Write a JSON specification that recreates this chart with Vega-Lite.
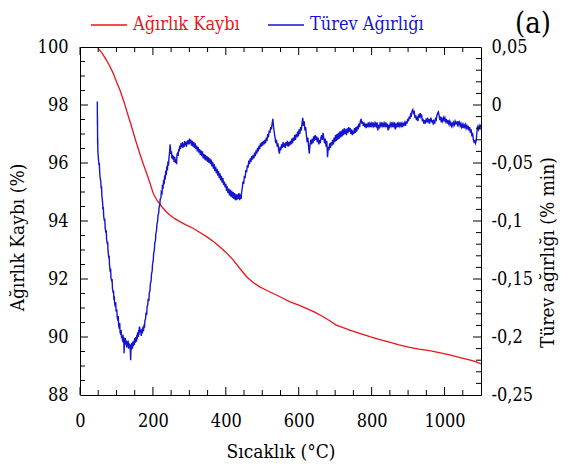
{
  "$schema": "https://vega.github.io/schema/vega-lite/v6.json",
  "width": 401,
  "height": 348,
  "autosize": {"type": "none"},
  "padding": {"left": 80, "top": 47, "right": 80, "bottom": 70},
  "background": "white",
  "title": {
    "text": "(a)",
    "anchor": "end",
    "frame": "group",
    "font": "DejaVu Serif Condensed",
    "fontSize": 29,
    "fontWeight": "normal",
    "color": "black",
    "baseline": "bottom",
    "dx": 70,
    "offset": -62
  },
  "config": {
    "view": {"stroke": "black", "strokeWidth": 1},
    "axis": {
      "grid": false,
      "domain": false,
      "ticks": false,
      "labelFont": "DejaVu Serif Condensed",
      "labelFontSize": 18,
      "labelColor": "black",
      "titleFont": "DejaVu Serif Condensed",
      "titleFontSize": 19,
      "titleFontWeight": "normal",
      "titleColor": "black",
      "labelOverlap": false,
      "labelFlush": false
    }
  },
  "datasets": {
    "xcentik": [
      {"t": 0, "tur": "ana"}, {"t": 50, "tur": "ara"}, {"t": 100, "tur": "ara"}, {"t": 150, "tur": "ara"},
      {"t": 200, "tur": "ana"}, {"t": 250, "tur": "ara"}, {"t": 300, "tur": "ara"}, {"t": 350, "tur": "ara"},
      {"t": 400, "tur": "ana"}, {"t": 450, "tur": "ara"}, {"t": 500, "tur": "ara"}, {"t": 550, "tur": "ara"},
      {"t": 600, "tur": "ana"}, {"t": 650, "tur": "ara"}, {"t": 700, "tur": "ara"}, {"t": 750, "tur": "ara"},
      {"t": 800, "tur": "ana"}, {"t": 850, "tur": "ara"}, {"t": 900, "tur": "ara"}, {"t": 950, "tur": "ara"},
      {"t": 1000, "tur": "ana"}, {"t": 1050, "tur": "ara"}
    ],
    "solcentik": [
      {"w": 88.5, "tur": "ara"}, {"w": 89, "tur": "ara"}, {"w": 89.5, "tur": "ara"}, {"w": 90, "tur": "ana"},
      {"w": 90.5, "tur": "ara"}, {"w": 91, "tur": "ara"}, {"w": 91.5, "tur": "ara"}, {"w": 92, "tur": "ana"},
      {"w": 92.5, "tur": "ara"}, {"w": 93, "tur": "ara"}, {"w": 93.5, "tur": "ara"}, {"w": 94, "tur": "ana"},
      {"w": 94.5, "tur": "ara"}, {"w": 95, "tur": "ara"}, {"w": 95.5, "tur": "ara"}, {"w": 96, "tur": "ana"},
      {"w": 96.5, "tur": "ara"}, {"w": 97, "tur": "ara"}, {"w": 97.5, "tur": "ara"}, {"w": 98, "tur": "ana"},
      {"w": 98.5, "tur": "ara"}, {"w": 99, "tur": "ara"}, {"w": 99.5, "tur": "ara"}
    ],
    "sagcentik": [
      {"d": -0.24, "tur": "ara"}, {"d": -0.23, "tur": "ara"}, {"d": -0.22, "tur": "ara"}, {"d": -0.21, "tur": "ara"},
      {"d": -0.2, "tur": "ana"}, {"d": -0.19, "tur": "ara"}, {"d": -0.18, "tur": "ara"}, {"d": -0.17, "tur": "ara"},
      {"d": -0.16, "tur": "ara"}, {"d": -0.15, "tur": "ana"}, {"d": -0.14, "tur": "ara"}, {"d": -0.13, "tur": "ara"},
      {"d": -0.12, "tur": "ara"}, {"d": -0.11, "tur": "ara"}, {"d": -0.1, "tur": "ana"}, {"d": -0.09, "tur": "ara"},
      {"d": -0.08, "tur": "ara"}, {"d": -0.07, "tur": "ara"}, {"d": -0.06, "tur": "ara"}, {"d": -0.05, "tur": "ana"},
      {"d": -0.04, "tur": "ara"}, {"d": -0.03, "tur": "ara"}, {"d": -0.02, "tur": "ara"}, {"d": -0.01, "tur": "ara"},
      {"d": 0, "tur": "ana"}, {"d": 0.01, "tur": "ara"}, {"d": 0.02, "tur": "ara"}, {"d": 0.03, "tur": "ara"},
      {"d": 0.04, "tur": "ara"}
    ],
    "kayip": [
      {"t": 50, "w": 99.95}, {"t": 60, "w": 99.8}, {"t": 70, "w": 99.6}, {"t": 80, "w": 99.38},
      {"t": 91, "w": 99.1}, {"t": 100, "w": 98.8}, {"t": 110, "w": 98.5}, {"t": 119, "w": 98.17},
      {"t": 130, "w": 97.72}, {"t": 141.5, "w": 97.25}, {"t": 152, "w": 96.8}, {"t": 164, "w": 96.33},
      {"t": 174, "w": 95.95}, {"t": 183, "w": 95.64}, {"t": 192, "w": 95.3}, {"t": 201, "w": 94.95},
      {"t": 212, "w": 94.7}, {"t": 224, "w": 94.5}, {"t": 236, "w": 94.33}, {"t": 247, "w": 94.2},
      {"t": 260, "w": 94.08}, {"t": 274, "w": 93.98}, {"t": 292, "w": 93.86}, {"t": 310, "w": 93.75},
      {"t": 328, "w": 93.61}, {"t": 347, "w": 93.46}, {"t": 366, "w": 93.29}, {"t": 384, "w": 93.1},
      {"t": 402, "w": 92.9}, {"t": 420, "w": 92.66}, {"t": 438, "w": 92.37}, {"t": 457, "w": 92.08},
      {"t": 475, "w": 91.88}, {"t": 493, "w": 91.73}, {"t": 510, "w": 91.62}, {"t": 530, "w": 91.5},
      {"t": 550, "w": 91.38}, {"t": 575, "w": 91.22}, {"t": 600, "w": 91.1}, {"t": 621, "w": 90.99},
      {"t": 645, "w": 90.85}, {"t": 667, "w": 90.7}, {"t": 685, "w": 90.56}, {"t": 703, "w": 90.41},
      {"t": 720, "w": 90.33}, {"t": 740, "w": 90.24}, {"t": 765, "w": 90.13}, {"t": 795, "w": 90.01},
      {"t": 820, "w": 89.92}, {"t": 849, "w": 89.82}, {"t": 875, "w": 89.73}, {"t": 904, "w": 89.64},
      {"t": 930, "w": 89.58}, {"t": 959, "w": 89.53}, {"t": 985, "w": 89.46}, {"t": 1014, "w": 89.38},
      {"t": 1040, "w": 89.3}, {"t": 1068, "w": 89.21}, {"t": 1085, "w": 89.15}, {"t": 1100, "w": 89.07}
    ],
    "turev": [
      {"t": 47.5, "d": 0.003}, {"t": 47.8, "d": -0.018}, {"t": 48.0, "d": -0.01}, {"t": 48.3, "d": -0.034},
      {"t": 48.6, "d": -0.028}, {"t": 49, "d": -0.04}, {"t": 50, "d": -0.044}, {"t": 51, "d": -0.048},
      {"t": 52, "d": -0.052}, {"t": 53, "d": -0.05}, {"t": 54, "d": -0.058}, {"t": 55, "d": -0.062},
      {"t": 57, "d": -0.066}, {"t": 58, "d": -0.072}, {"t": 59, "d": -0.07}, {"t": 60, "d": -0.078},
      {"t": 62, "d": -0.084}, {"t": 63, "d": -0.09}, {"t": 64, "d": -0.088}, {"t": 65, "d": -0.096},
      {"t": 67, "d": -0.1}, {"t": 68, "d": -0.098}, {"t": 69, "d": -0.106}, {"t": 71, "d": -0.11},
      {"t": 72, "d": -0.108}, {"t": 73, "d": -0.116}, {"t": 75, "d": -0.12}, {"t": 76, "d": -0.118},
      {"t": 77, "d": -0.126}, {"t": 79, "d": -0.132}, {"t": 80, "d": -0.13}, {"t": 81, "d": -0.138},
      {"t": 83, "d": -0.144}, {"t": 84, "d": -0.141}, {"t": 85, "d": -0.149}, {"t": 87, "d": -0.152},
      {"t": 88, "d": -0.15}, {"t": 89, "d": -0.158}, {"t": 91, "d": -0.162}, {"t": 92, "d": -0.16},
      {"t": 93, "d": -0.168}, {"t": 94, "d": -0.165}, {"t": 95, "d": -0.171}, {"t": 97, "d": -0.174},
      {"t": 98, "d": -0.17}, {"t": 99, "d": -0.178}, {"t": 101, "d": -0.176}, {"t": 102, "d": -0.183},
      {"t": 104, "d": -0.186}, {"t": 105, "d": -0.182}, {"t": 106, "d": -0.19}, {"t": 108, "d": -0.193},
      {"t": 109, "d": -0.188}, {"t": 110, "d": -0.196}, {"t": 112, "d": -0.198}, {"t": 113, "d": -0.194},
      {"t": 114, "d": -0.201}, {"t": 116, "d": -0.199}, {"t": 117, "d": -0.204}, {"t": 118, "d": -0.198},
      {"t": 119, "d": -0.205}, {"t": 120, "d": -0.2}, {"t": 121, "d": -0.214}, {"t": 122, "d": -0.202},
      {"t": 123, "d": -0.207}, {"t": 124, "d": -0.201}, {"t": 126, "d": -0.206}, {"t": 127, "d": -0.203},
      {"t": 128, "d": -0.209}, {"t": 129, "d": -0.204}, {"t": 131, "d": -0.208}, {"t": 132, "d": -0.203},
      {"t": 133, "d": -0.21}, {"t": 134, "d": -0.205}, {"t": 136, "d": -0.209}, {"t": 137, "d": -0.206},
      {"t": 138, "d": -0.212}, {"t": 139, "d": -0.22}, {"t": 140, "d": -0.207}, {"t": 141, "d": -0.211},
      {"t": 142, "d": -0.205}, {"t": 144, "d": -0.21}, {"t": 145, "d": -0.204}, {"t": 146, "d": -0.208},
      {"t": 148, "d": -0.203}, {"t": 149, "d": -0.207}, {"t": 150, "d": -0.201}, {"t": 152, "d": -0.205},
      {"t": 153, "d": -0.2}, {"t": 155, "d": -0.204}, {"t": 156, "d": -0.198}, {"t": 157, "d": -0.202},
      {"t": 158, "d": -0.196}, {"t": 160, "d": -0.2}, {"t": 161, "d": -0.194}, {"t": 162, "d": -0.198},
      {"t": 163, "d": -0.191}, {"t": 165, "d": -0.194}, {"t": 167, "d": -0.196}, {"t": 168, "d": -0.199},
      {"t": 170, "d": -0.193}, {"t": 171, "d": -0.197}, {"t": 173, "d": -0.191}, {"t": 174, "d": -0.195},
      {"t": 176, "d": -0.189}, {"t": 177, "d": -0.192}, {"t": 178, "d": -0.186}, {"t": 180, "d": -0.184},
      {"t": 181, "d": -0.179}, {"t": 183, "d": -0.181}, {"t": 184, "d": -0.174}, {"t": 186, "d": -0.172},
      {"t": 187, "d": -0.167}, {"t": 189, "d": -0.169}, {"t": 190, "d": -0.162}, {"t": 192, "d": -0.16},
      {"t": 193, "d": -0.154}, {"t": 195, "d": -0.152}, {"t": 196, "d": -0.146}, {"t": 198, "d": -0.143},
      {"t": 199, "d": -0.137}, {"t": 201, "d": -0.134}, {"t": 202, "d": -0.128}, {"t": 204, "d": -0.125},
      {"t": 205, "d": -0.119}, {"t": 207, "d": -0.117}, {"t": 208, "d": -0.111}, {"t": 210, "d": -0.108},
      {"t": 211, "d": -0.103}, {"t": 213, "d": -0.1}, {"t": 214, "d": -0.095}, {"t": 216, "d": -0.093},
      {"t": 217, "d": -0.088}, {"t": 219, "d": -0.086}, {"t": 220, "d": -0.081}, {"t": 222, "d": -0.08},
      {"t": 223, "d": -0.075}, {"t": 225, "d": -0.076}, {"t": 226, "d": -0.07}, {"t": 228, "d": -0.071},
      {"t": 229, "d": -0.066}, {"t": 231, "d": -0.067}, {"t": 232, "d": -0.062}, {"t": 234, "d": -0.063},
      {"t": 235, "d": -0.058}, {"t": 237, "d": -0.059}, {"t": 238, "d": -0.054}, {"t": 240, "d": -0.055},
      {"t": 241, "d": -0.05}, {"t": 243, "d": -0.051}, {"t": 244, "d": -0.046}, {"t": 246, "d": -0.04},
      {"t": 247, "d": -0.034}, {"t": 248, "d": -0.036}, {"t": 249, "d": -0.042}, {"t": 251, "d": -0.04},
      {"t": 252, "d": -0.046}, {"t": 254, "d": -0.043}, {"t": 255, "d": -0.047}, {"t": 257, "d": -0.044},
      {"t": 258, "d": -0.049}, {"t": 260, "d": -0.045}, {"t": 262, "d": -0.05}, {"t": 263, "d": -0.047},
      {"t": 265, "d": -0.051}, {"t": 266, "d": -0.043}, {"t": 268, "d": -0.041}, {"t": 269, "d": -0.044},
      {"t": 271, "d": -0.038}, {"t": 272, "d": -0.04}, {"t": 274, "d": -0.035}, {"t": 276, "d": -0.038},
      {"t": 277, "d": -0.033}, {"t": 279, "d": -0.036}, {"t": 281, "d": -0.032}, {"t": 282, "d": -0.037},
      {"t": 284, "d": -0.033}, {"t": 286, "d": -0.036}, {"t": 287, "d": -0.031}, {"t": 289, "d": -0.035},
      {"t": 291, "d": -0.032}, {"t": 292, "d": -0.036}, {"t": 294, "d": -0.031}, {"t": 296, "d": -0.034},
      {"t": 297, "d": -0.03}, {"t": 299, "d": -0.034}, {"t": 301, "d": -0.029}, {"t": 303, "d": -0.033},
      {"t": 304, "d": -0.03}, {"t": 306, "d": -0.035}, {"t": 308, "d": -0.031}, {"t": 310, "d": -0.036},
      {"t": 312, "d": -0.032}, {"t": 314, "d": -0.037}, {"t": 316, "d": -0.033}, {"t": 318, "d": -0.038},
      {"t": 320, "d": -0.035}, {"t": 322, "d": -0.04}, {"t": 324, "d": -0.036}, {"t": 326, "d": -0.041},
      {"t": 328, "d": -0.038}, {"t": 330, "d": -0.043}, {"t": 332, "d": -0.039}, {"t": 334, "d": -0.044},
      {"t": 336, "d": -0.04}, {"t": 338, "d": -0.046}, {"t": 340, "d": -0.042}, {"t": 342, "d": -0.047},
      {"t": 344, "d": -0.043}, {"t": 346, "d": -0.048}, {"t": 348, "d": -0.044}, {"t": 350, "d": -0.049},
      {"t": 352, "d": -0.045}, {"t": 354, "d": -0.05}, {"t": 356, "d": -0.046}, {"t": 358, "d": -0.051},
      {"t": 360, "d": -0.047}, {"t": 362, "d": -0.053}, {"t": 364, "d": -0.049}, {"t": 366, "d": -0.055},
      {"t": 368, "d": -0.051}, {"t": 370, "d": -0.057}, {"t": 372, "d": -0.053}, {"t": 374, "d": -0.059},
      {"t": 376, "d": -0.055}, {"t": 378, "d": -0.061}, {"t": 380, "d": -0.057}, {"t": 382, "d": -0.063},
      {"t": 384, "d": -0.059}, {"t": 386, "d": -0.065}, {"t": 388, "d": -0.061}, {"t": 390, "d": -0.067},
      {"t": 392, "d": -0.063}, {"t": 394, "d": -0.069}, {"t": 396, "d": -0.066}, {"t": 398, "d": -0.071},
      {"t": 400, "d": -0.068}, {"t": 402, "d": -0.074}, {"t": 404, "d": -0.07}, {"t": 406, "d": -0.076},
      {"t": 408, "d": -0.072}, {"t": 410, "d": -0.078}, {"t": 412, "d": -0.073}, {"t": 414, "d": -0.079},
      {"t": 416, "d": -0.074}, {"t": 418, "d": -0.08}, {"t": 420, "d": -0.075}, {"t": 422, "d": -0.081},
      {"t": 424, "d": -0.076}, {"t": 426, "d": -0.082}, {"t": 428, "d": -0.077}, {"t": 430, "d": -0.082},
      {"t": 432, "d": -0.077}, {"t": 434, "d": -0.081}, {"t": 436, "d": -0.076}, {"t": 438, "d": -0.082},
      {"t": 440, "d": -0.077}, {"t": 442, "d": -0.081}, {"t": 443, "d": -0.076}, {"t": 445, "d": -0.072},
      {"t": 447, "d": -0.066}, {"t": 449, "d": -0.068}, {"t": 451, "d": -0.061}, {"t": 453, "d": -0.063},
      {"t": 455, "d": -0.056}, {"t": 457, "d": -0.058}, {"t": 459, "d": -0.052}, {"t": 461, "d": -0.054},
      {"t": 463, "d": -0.048}, {"t": 465, "d": -0.051}, {"t": 467, "d": -0.046}, {"t": 469, "d": -0.049},
      {"t": 471, "d": -0.044}, {"t": 473, "d": -0.047}, {"t": 475, "d": -0.043}, {"t": 477, "d": -0.046},
      {"t": 479, "d": -0.041}, {"t": 481, "d": -0.044}, {"t": 483, "d": -0.039}, {"t": 485, "d": -0.042},
      {"t": 487, "d": -0.037}, {"t": 489, "d": -0.04}, {"t": 491, "d": -0.035}, {"t": 493, "d": -0.038},
      {"t": 495, "d": -0.033}, {"t": 497, "d": -0.036}, {"t": 499, "d": -0.032}, {"t": 501, "d": -0.035},
      {"t": 503, "d": -0.031}, {"t": 505, "d": -0.034}, {"t": 507, "d": -0.03}, {"t": 509, "d": -0.033},
      {"t": 511, "d": -0.028}, {"t": 513, "d": -0.031}, {"t": 515, "d": -0.025}, {"t": 517, "d": -0.028},
      {"t": 519, "d": -0.022}, {"t": 521, "d": -0.024}, {"t": 523, "d": -0.019}, {"t": 525, "d": -0.021},
      {"t": 527, "d": -0.016}, {"t": 529, "d": -0.012}, {"t": 531, "d": -0.019}, {"t": 533, "d": -0.024},
      {"t": 535, "d": -0.028}, {"t": 537, "d": -0.033}, {"t": 539, "d": -0.03}, {"t": 541, "d": -0.036},
      {"t": 543, "d": -0.033}, {"t": 545, "d": -0.039}, {"t": 547, "d": -0.042}, {"t": 549, "d": -0.036},
      {"t": 551, "d": -0.039}, {"t": 553, "d": -0.034}, {"t": 555, "d": -0.037}, {"t": 557, "d": -0.032},
      {"t": 559, "d": -0.036}, {"t": 561, "d": -0.033}, {"t": 563, "d": -0.037}, {"t": 565, "d": -0.032},
      {"t": 567, "d": -0.035}, {"t": 569, "d": -0.031}, {"t": 571, "d": -0.036}, {"t": 573, "d": -0.032},
      {"t": 575, "d": -0.035}, {"t": 577, "d": -0.031}, {"t": 579, "d": -0.034}, {"t": 581, "d": -0.029},
      {"t": 583, "d": -0.033}, {"t": 585, "d": -0.028}, {"t": 587, "d": -0.031}, {"t": 589, "d": -0.026},
      {"t": 591, "d": -0.03}, {"t": 593, "d": -0.025}, {"t": 595, "d": -0.028}, {"t": 597, "d": -0.023},
      {"t": 599, "d": -0.027}, {"t": 601, "d": -0.021}, {"t": 603, "d": -0.025}, {"t": 605, "d": -0.019},
      {"t": 607, "d": -0.022}, {"t": 609, "d": -0.016}, {"t": 611, "d": -0.011}, {"t": 613, "d": -0.018},
      {"t": 615, "d": -0.014}, {"t": 617, "d": -0.022}, {"t": 619, "d": -0.019}, {"t": 621, "d": -0.026},
      {"t": 623, "d": -0.032}, {"t": 625, "d": -0.028}, {"t": 627, "d": -0.036}, {"t": 629, "d": -0.042},
      {"t": 631, "d": -0.034}, {"t": 633, "d": -0.03}, {"t": 635, "d": -0.034}, {"t": 637, "d": -0.029},
      {"t": 639, "d": -0.033}, {"t": 641, "d": -0.027}, {"t": 643, "d": -0.031}, {"t": 645, "d": -0.026},
      {"t": 647, "d": -0.03}, {"t": 649, "d": -0.027}, {"t": 651, "d": -0.032}, {"t": 653, "d": -0.028},
      {"t": 655, "d": -0.034}, {"t": 657, "d": -0.03}, {"t": 659, "d": -0.033}, {"t": 661, "d": -0.028},
      {"t": 663, "d": -0.026}, {"t": 665, "d": -0.03}, {"t": 667, "d": -0.024}, {"t": 669, "d": -0.029},
      {"t": 671, "d": -0.033}, {"t": 673, "d": -0.029}, {"t": 675, "d": -0.036}, {"t": 677, "d": -0.031},
      {"t": 679, "d": -0.045}, {"t": 681, "d": -0.036}, {"t": 683, "d": -0.039}, {"t": 685, "d": -0.033},
      {"t": 687, "d": -0.037}, {"t": 689, "d": -0.032}, {"t": 691, "d": -0.035}, {"t": 693, "d": -0.03},
      {"t": 695, "d": -0.034}, {"t": 697, "d": -0.028}, {"t": 699, "d": -0.032}, {"t": 701, "d": -0.026},
      {"t": 703, "d": -0.031}, {"t": 705, "d": -0.025}, {"t": 707, "d": -0.03}, {"t": 709, "d": -0.024},
      {"t": 711, "d": -0.029}, {"t": 713, "d": -0.023}, {"t": 715, "d": -0.028}, {"t": 717, "d": -0.022},
      {"t": 719, "d": -0.027}, {"t": 721, "d": -0.021}, {"t": 723, "d": -0.026}, {"t": 725, "d": -0.02},
      {"t": 727, "d": -0.025}, {"t": 729, "d": -0.021}, {"t": 731, "d": -0.026}, {"t": 733, "d": -0.02},
      {"t": 735, "d": -0.024}, {"t": 737, "d": -0.019}, {"t": 739, "d": -0.023}, {"t": 741, "d": -0.02},
      {"t": 743, "d": -0.025}, {"t": 745, "d": -0.021}, {"t": 747, "d": -0.026}, {"t": 749, "d": -0.022},
      {"t": 751, "d": -0.025}, {"t": 753, "d": -0.02}, {"t": 755, "d": -0.024}, {"t": 757, "d": -0.019},
      {"t": 759, "d": -0.023}, {"t": 761, "d": -0.018}, {"t": 763, "d": -0.021}, {"t": 765, "d": -0.016},
      {"t": 767, "d": -0.019}, {"t": 769, "d": -0.014}, {"t": 771, "d": -0.012}, {"t": 773, "d": -0.016},
      {"t": 775, "d": -0.014}, {"t": 777, "d": -0.018}, {"t": 779, "d": -0.015}, {"t": 781, "d": -0.019},
      {"t": 783, "d": -0.016}, {"t": 785, "d": -0.02}, {"t": 787, "d": -0.016}, {"t": 789, "d": -0.019},
      {"t": 791, "d": -0.015}, {"t": 793, "d": -0.018}, {"t": 795, "d": -0.016}, {"t": 797, "d": -0.019},
      {"t": 799, "d": -0.016}, {"t": 801, "d": -0.018}, {"t": 803, "d": -0.015}, {"t": 805, "d": -0.018},
      {"t": 807, "d": -0.016}, {"t": 809, "d": -0.019}, {"t": 811, "d": -0.016}, {"t": 813, "d": -0.018},
      {"t": 815, "d": -0.015}, {"t": 817, "d": -0.022}, {"t": 819, "d": -0.017}, {"t": 821, "d": -0.019},
      {"t": 823, "d": -0.016}, {"t": 825, "d": -0.018}, {"t": 827, "d": -0.015}, {"t": 829, "d": -0.018},
      {"t": 831, "d": -0.016}, {"t": 833, "d": -0.019}, {"t": 835, "d": -0.016}, {"t": 837, "d": -0.018},
      {"t": 839, "d": -0.015}, {"t": 841, "d": -0.019}, {"t": 843, "d": -0.016}, {"t": 845, "d": -0.022},
      {"t": 847, "d": -0.017}, {"t": 849, "d": -0.019}, {"t": 851, "d": -0.016}, {"t": 853, "d": -0.018},
      {"t": 855, "d": -0.015}, {"t": 857, "d": -0.019}, {"t": 859, "d": -0.016}, {"t": 861, "d": -0.018},
      {"t": 863, "d": -0.015}, {"t": 865, "d": -0.021}, {"t": 867, "d": -0.016}, {"t": 869, "d": -0.018},
      {"t": 871, "d": -0.015}, {"t": 873, "d": -0.019}, {"t": 875, "d": -0.016}, {"t": 877, "d": -0.018},
      {"t": 879, "d": -0.015}, {"t": 881, "d": -0.018}, {"t": 883, "d": -0.016}, {"t": 885, "d": -0.019},
      {"t": 887, "d": -0.016}, {"t": 889, "d": -0.017}, {"t": 891, "d": -0.015}, {"t": 893, "d": -0.018},
      {"t": 895, "d": -0.014}, {"t": 897, "d": -0.016}, {"t": 899, "d": -0.012}, {"t": 901, "d": -0.014},
      {"t": 903, "d": -0.01}, {"t": 905, "d": -0.012}, {"t": 907, "d": -0.008}, {"t": 909, "d": -0.009},
      {"t": 911, "d": -0.005}, {"t": 913, "d": -0.004}, {"t": 915, "d": -0.007}, {"t": 917, "d": -0.006},
      {"t": 919, "d": -0.011}, {"t": 921, "d": -0.009}, {"t": 923, "d": -0.013}, {"t": 925, "d": -0.01},
      {"t": 927, "d": -0.014}, {"t": 929, "d": -0.008}, {"t": 931, "d": -0.011}, {"t": 933, "d": -0.007},
      {"t": 935, "d": -0.01}, {"t": 937, "d": -0.008}, {"t": 939, "d": -0.014}, {"t": 941, "d": -0.012},
      {"t": 943, "d": -0.016}, {"t": 945, "d": -0.013}, {"t": 947, "d": -0.016}, {"t": 949, "d": -0.013},
      {"t": 951, "d": -0.015}, {"t": 953, "d": -0.011}, {"t": 955, "d": -0.014}, {"t": 957, "d": -0.012},
      {"t": 959, "d": -0.016}, {"t": 961, "d": -0.013}, {"t": 963, "d": -0.011}, {"t": 965, "d": -0.015},
      {"t": 967, "d": -0.013}, {"t": 969, "d": -0.017}, {"t": 971, "d": -0.014}, {"t": 973, "d": -0.016},
      {"t": 975, "d": -0.012}, {"t": 977, "d": -0.013}, {"t": 979, "d": -0.009}, {"t": 981, "d": -0.007},
      {"t": 983, "d": -0.006}, {"t": 985, "d": -0.009}, {"t": 987, "d": -0.013}, {"t": 989, "d": -0.01},
      {"t": 991, "d": -0.015}, {"t": 993, "d": -0.012}, {"t": 995, "d": -0.014}, {"t": 997, "d": -0.011},
      {"t": 999, "d": -0.013}, {"t": 1001, "d": -0.011}, {"t": 1003, "d": -0.014}, {"t": 1005, "d": -0.012},
      {"t": 1007, "d": -0.016}, {"t": 1009, "d": -0.013}, {"t": 1011, "d": -0.016}, {"t": 1013, "d": -0.014},
      {"t": 1015, "d": -0.017}, {"t": 1017, "d": -0.015}, {"t": 1019, "d": -0.018}, {"t": 1021, "d": -0.016},
      {"t": 1023, "d": -0.018}, {"t": 1025, "d": -0.015}, {"t": 1027, "d": -0.017}, {"t": 1029, "d": -0.014},
      {"t": 1031, "d": -0.016}, {"t": 1033, "d": -0.015}, {"t": 1035, "d": -0.017}, {"t": 1037, "d": -0.014},
      {"t": 1039, "d": -0.017}, {"t": 1041, "d": -0.015}, {"t": 1043, "d": -0.018}, {"t": 1045, "d": -0.016},
      {"t": 1047, "d": -0.019}, {"t": 1049, "d": -0.017}, {"t": 1051, "d": -0.02}, {"t": 1053, "d": -0.017},
      {"t": 1055, "d": -0.019}, {"t": 1057, "d": -0.017}, {"t": 1059, "d": -0.02}, {"t": 1061, "d": -0.018},
      {"t": 1063, "d": -0.021}, {"t": 1065, "d": -0.018}, {"t": 1067, "d": -0.022}, {"t": 1069, "d": -0.019},
      {"t": 1071, "d": -0.024}, {"t": 1073, "d": -0.021}, {"t": 1075, "d": -0.027}, {"t": 1077, "d": -0.024},
      {"t": 1079, "d": -0.03}, {"t": 1081, "d": -0.032}, {"t": 1083, "d": -0.031}, {"t": 1085, "d": -0.033},
      {"t": 1087, "d": -0.03}, {"t": 1089, "d": -0.022}, {"t": 1091, "d": -0.019}, {"t": 1093, "d": -0.021},
      {"t": 1095, "d": -0.018}, {"t": 1097, "d": -0.02}, {"t": 1099, "d": -0.017}, {"t": 1100, "d": -0.019}
    ]
  },
  "layer": [
    {
      "data": {"name": "kayip"},
      "mark": {"type": "line", "strokeWidth": 1.3, "clip": true},
      "encoding": {
        "x": {
          "field": "t",
          "type": "quantitative",
          "scale": {"domain": [0, 1100], "nice": false, "zero": false},
          "axis": {
            "orient": "bottom",
            "title": "Sıcaklık (°C)",
            "titlePadding": 12,
            "values": [0, 200, 400, 600, 800, 1000],
            "format": "d",
            "labelPadding": 17
          }
        },
        "y": {
          "field": "w",
          "type": "quantitative",
          "scale": {"domain": [88, 100], "nice": false, "zero": false},
          "axis": {
            "orient": "left",
            "title": "Ağırlık Kaybı  (%)",
            "titleY": 190,
            "titlePadding": 10,
            "values": [88, 90, 92, 94, 96, 98, 100],
            "format": "d",
            "labelPadding": 12
          }
        },
        "color": {
          "datum": "Ağırlık Kaybı",
          "type": "nominal",
          "scale": {"domain": ["Ağırlık Kaybı", "Türev Ağırlığı"], "range": ["#e8141c", "#1515d0"]},
          "legend": {
            "orient": "none",
            "legendX": 10,
            "legendY": -41,
            "direction": "horizontal",
            "title": null,
            "symbolType": "stroke",
            "symbolSize": 1300,
            "symbolStrokeWidth": 1.5,
            "labelFont": "DejaVu Serif Condensed",
            "labelFontSize": 18,
            "labelOffset": 5,
            "columnPadding": 24,
            "encode": {"labels": {"update": {"fill": {"signal": "datum.label === 'Ağırlık Kaybı' ? '#e8141c' : '#1515d0'"}}}}
          }
        }
      }
    },
    {
      "data": {"name": "turev"},
      "mark": {"type": "line", "strokeWidth": 1.4, "clip": true},
      "encoding": {
        "x": {
          "field": "t",
          "type": "quantitative",
          "scale": {"domain": [0, 1100], "nice": false, "zero": false},
          "axis": null
        },
        "y": {
          "field": "d",
          "type": "quantitative",
          "scale": {"domain": [-0.25, 0.05], "nice": false, "zero": false},
          "axis": {
            "orient": "right",
            "title": "Türev ağırlığı  (% min)",
            "titleAngle": -90,
            "titleBaseline": "top",
            "titleY": 205,
            "titlePadding": 6,
            "values": [-0.25, -0.2, -0.15, -0.1, -0.05, 0, 0.05],
            "labelExpr": "(datum.value < -0.0001 ? '-' : '') + replace(format(abs(datum.value), '.2~f'), '.', ',')",
            "labelPadding": 10
          }
        },
        "color": {"datum": "Türev Ağırlığı", "type": "nominal"}
      }
    },
    {
      "data": {"name": "xcentik"},
      "transform": [{"filter": "datum.tur === 'ana'"}],
      "mark": {"type": "rule", "color": "black", "strokeWidth": 1},
      "encoding": {
        "x": {"field": "t", "type": "quantitative", "scale": {"domain": [0, 1100], "nice": false, "zero": false}, "axis": null},
        "y": {"datum": 88, "type": "quantitative", "scale": {"domain": [88, 100], "nice": false, "zero": false}, "axis": null},
        "y2": {"datum": 88.276}
      }
    },
    {
      "data": {"name": "xcentik"},
      "transform": [{"filter": "datum.tur === 'ara'"}],
      "mark": {"type": "rule", "color": "black", "strokeWidth": 1},
      "encoding": {
        "x": {"field": "t", "type": "quantitative", "scale": {"domain": [0, 1100], "nice": false, "zero": false}, "axis": null},
        "y": {"datum": 88, "type": "quantitative", "scale": {"domain": [88, 100], "nice": false, "zero": false}, "axis": null},
        "y2": {"datum": 88.172}
      }
    },
    {
      "data": {"name": "xcentik"},
      "transform": [{"filter": "datum.tur === 'ana'"}],
      "mark": {"type": "rule", "color": "black", "strokeWidth": 1},
      "encoding": {
        "x": {"field": "t", "type": "quantitative", "scale": {"domain": [0, 1100], "nice": false, "zero": false}, "axis": null},
        "y": {"datum": 100, "type": "quantitative", "scale": {"domain": [88, 100], "nice": false, "zero": false}, "axis": null},
        "y2": {"datum": 99.724}
      }
    },
    {
      "data": {"name": "xcentik"},
      "transform": [{"filter": "datum.tur === 'ara'"}],
      "mark": {"type": "rule", "color": "black", "strokeWidth": 1},
      "encoding": {
        "x": {"field": "t", "type": "quantitative", "scale": {"domain": [0, 1100], "nice": false, "zero": false}, "axis": null},
        "y": {"datum": 100, "type": "quantitative", "scale": {"domain": [88, 100], "nice": false, "zero": false}, "axis": null},
        "y2": {"datum": 99.828}
      }
    },
    {
      "data": {"name": "solcentik"},
      "transform": [{"filter": "datum.tur === 'ana'"}],
      "mark": {"type": "rule", "color": "black", "strokeWidth": 1},
      "encoding": {
        "x": {"datum": 0, "type": "quantitative", "scale": {"domain": [0, 1100], "nice": false, "zero": false}, "axis": null},
        "x2": {"datum": 21.9},
        "y": {"field": "w", "type": "quantitative", "scale": {"domain": [88, 100], "nice": false, "zero": false}, "axis": null}
      }
    },
    {
      "data": {"name": "solcentik"},
      "transform": [{"filter": "datum.tur === 'ara'"}],
      "mark": {"type": "rule", "color": "black", "strokeWidth": 1},
      "encoding": {
        "x": {"datum": 0, "type": "quantitative", "scale": {"domain": [0, 1100], "nice": false, "zero": false}, "axis": null},
        "x2": {"datum": 13.7},
        "y": {"field": "w", "type": "quantitative", "scale": {"domain": [88, 100], "nice": false, "zero": false}, "axis": null}
      }
    },
    {
      "data": {"name": "sagcentik"},
      "transform": [{"filter": "datum.tur === 'ana'"}],
      "mark": {"type": "rule", "color": "black", "strokeWidth": 1},
      "encoding": {
        "x": {"datum": 1100, "type": "quantitative", "scale": {"domain": [0, 1100], "nice": false, "zero": false}, "axis": null},
        "x2": {"datum": 1078.1},
        "y": {"field": "d", "type": "quantitative", "scale": {"domain": [-0.25, 0.05], "nice": false, "zero": false}, "axis": null}
      }
    },
    {
      "data": {"name": "sagcentik"},
      "transform": [{"filter": "datum.tur === 'ara'"}],
      "mark": {"type": "rule", "color": "black", "strokeWidth": 1},
      "encoding": {
        "x": {"datum": 1100, "type": "quantitative", "scale": {"domain": [0, 1100], "nice": false, "zero": false}, "axis": null},
        "x2": {"datum": 1086.3},
        "y": {"field": "d", "type": "quantitative", "scale": {"domain": [-0.25, 0.05], "nice": false, "zero": false}, "axis": null}
      }
    }
  ],
  "resolve": {
    "scale": {"y": "independent"},
    "axis": {"x": "independent", "y": "independent"}
  }
}
